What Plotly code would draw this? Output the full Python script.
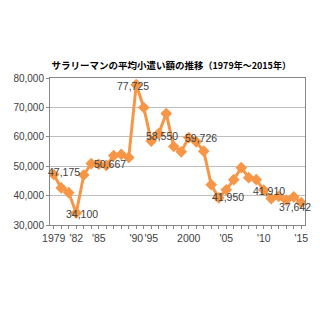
import plotly.graph_objects as go

years = ["1979","1980","1981","1982","1983","1984","1985","1986","1987","1988","1989","1990",
         "1992","1995","1996","1997","1998","1999","2000","2001","2002","2003","2004","2005",
         "2006","2007","2008","2009","2010","2011","2012","2013","2014","2015"]
values = [47175, 42600, 41000, 34100, 47000, 50900, 50667, 50300, 53600, 54000, 53000, 77725,
          69960, 58550, 61100, 67900, 56700, 54900, 59726, 58300, 55100, 43700, 39200, 41950,
          45400, 49500, 46100, 45400, 41910, 39000, 39756, 38457, 39572, 37642]
tick_labels = {"1979": "1979", "1982": "'82", "1985": "'85", "1990": "'90", "1995": "'95",
               "2000": "2000", "2005": "'05", "2010": "'10", "2015": "'15"}
labeled_years = ["1979", "1982", "1985", "1990", "1995", "2000", "2005", "2010", "2015"]
# pixel offsets of the value labels (style only)
label_shift = {"1979": (10, 3), "1982": (6, -1), "1985": (11, 0), "1990": (-3, -1),
               "1995": (11, 5), "2000": (12, 0), "2005": (2, -7), "2010": (5, -1), "2015": (-6, -4)}

orange = "#F79646"
fig = go.Figure()
fig.add_trace(go.Scatter(
    x=years, y=values, mode="lines+markers",
    line=dict(color=orange, width=3),
    marker=dict(symbol="diamond", size=9, color=orange),
    hoverinfo="skip", showlegend=False))

annotations = []
for yr in labeled_years:
    i = years.index(yr)
    v = values[i]
    dx, dy = label_shift[yr]
    annotations.append(dict(x=i, y=v, xref="x", yref="y", text=f"{v:,}", showarrow=False,
                            xshift=dx, yshift=dy,
                            font=dict(family="Liberation Sans, Arial", size=10.5, color="#404040")))

fig.update_layout(
    width=320, height=320,
    margin=dict(l=50, r=15, t=78, b=95),
    paper_bgcolor="white", plot_bgcolor="white",
    title=dict(
        text="<b>サラリーマンの平均小遣い額の推移</b><span style='font-size:9px'><b>（1979年〜2015年）</b></span>",
        x=0.535, xanchor="center", y=1 - 66/320, yanchor="middle", xref="container", yref="container",
        font=dict(family="Noto Sans CJK JP", size=9.5, color="#000000")),
    annotations=annotations,
    xaxis=dict(
        type="category", range=[-0.5, len(years) - 0.5],
        tickvals=years, ticktext=[tick_labels.get(y, "") for y in years],
        ticks="outside", ticklen=3, tickcolor="#868686", tickwidth=1,
        showline=True, linecolor="#868686", linewidth=1, mirror=True,
        showgrid=False, tickangle=0,
        tickfont=dict(family="Liberation Sans, Arial", size=10.5, color="#404040")),
    yaxis=dict(
        range=[30000, 80000], tickvals=[30000, 40000, 50000, 60000, 70000, 80000],
        tickformat=",d", ticks="outside", ticklen=3, tickcolor="#868686",
        showline=True, linecolor="#868686", linewidth=1, mirror=True,
        showgrid=True, gridcolor="#BFBFBF", gridwidth=1, zeroline=False,
        tickfont=dict(family="Liberation Sans, Arial", size=10, color="#404040")),
)

fig.write_html("out.html")
